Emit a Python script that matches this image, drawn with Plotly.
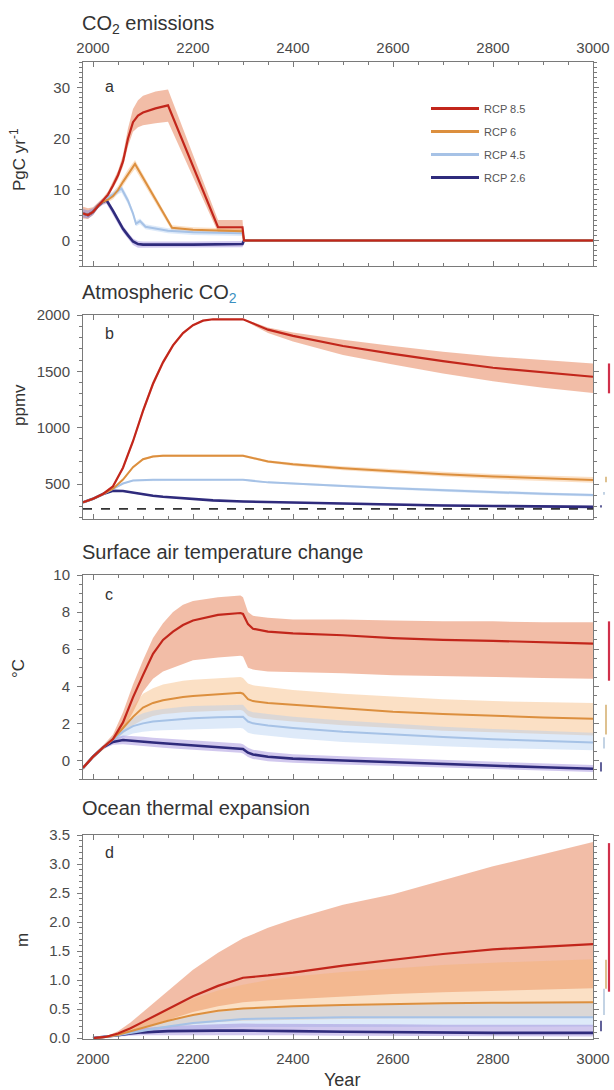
import plotly.graph_objects as go

# ---------------- (a) CO2 emissions, PgC per year ----------------
em85_yr = [1980, 1990, 2000, 2010, 2020, 2030, 2040, 2050, 2060, 2070, 2080, 2090, 2100, 2125, 2150, 2250, 2299, 2302, 3000]
em85 = [5.3, 5.0, 5.6, 6.8, 7.8, 9.0, 10.8, 12.8, 15.5, 20.0, 23.2, 24.5, 25.1, 25.9, 26.5, 2.6, 2.6, 0.0, 0.0]
em85_lo = [4.3, 4.2, 5.0, 6.3, 7.3, 8.5, 10.2, 12.0, 14.5, 18.5, 21.3, 22.2, 22.6, 23.0, 23.3, 1.6, 1.6, -0.2, -0.2]
em85_hi = [6.6, 6.3, 6.5, 7.4, 8.4, 9.6, 11.5, 13.7, 16.8, 22.0, 25.8, 27.5, 28.4, 29.2, 29.6, 4.0, 4.0, 0.2, 0.2]

em6_yr = [1980, 1990, 2000, 2010, 2020, 2030, 2040, 2050, 2060, 2070, 2084, 2158, 2200, 2299, 2302, 3000]
em6 = [5.3, 5.0, 5.6, 6.8, 7.6, 8.0, 8.7, 9.9, 11.5, 13.0, 15.0, 2.5, 2.1, 1.8, 0.0, 0.0]
em6_lo = [4.5, 4.3, 5.0, 6.3, 7.1, 7.5, 8.1, 9.2, 10.7, 12.2, 14.0, 1.9, 1.6, 1.3, -0.2, -0.2]
em6_hi = [6.2, 5.9, 6.3, 7.3, 8.1, 8.6, 9.4, 10.7, 12.4, 13.9, 15.8, 3.0, 2.6, 2.3, 0.2, 0.2]

em45_yr = [1980, 1990, 2000, 2010, 2020, 2030, 2040, 2050, 2057, 2070, 2080, 2086, 2094, 2105, 2150, 2200, 2299, 2302, 3000]
em45 = [5.3, 5.0, 5.6, 6.8, 7.7, 8.5, 9.0, 9.8, 10.2, 7.8, 5.3, 3.3, 3.8, 2.7, 1.9, 1.6, 1.4, 0.0, 0.0]
em45_lo = [4.5, 4.3, 5.0, 6.3, 7.2, 8.0, 8.4, 9.1, 9.4, 7.1, 4.7, 2.8, 3.2, 2.2, 1.4, 1.1, 0.9, -0.2, -0.2]
em45_hi = [6.2, 5.9, 6.3, 7.3, 8.2, 9.0, 9.6, 10.4, 10.9, 8.5, 5.9, 3.9, 4.3, 3.2, 2.4, 2.1, 1.9, 0.2, 0.2]

em26_yr = [1980, 1990, 2000, 2010, 2020, 2027, 2040, 2050, 2060, 2070, 2080, 2090, 2100, 2200, 2299, 2302, 3000]
em26 = [5.3, 5.0, 5.6, 6.8, 7.6, 7.9, 5.8, 4.0, 2.3, 1.0, -0.2, -0.7, -0.8, -0.8, -0.7, 0.0, 0.0]
em26_lo = [4.5, 4.3, 5.0, 6.3, 7.0, 7.2, 5.1, 3.3, 1.6, 0.3, -0.9, -1.4, -1.5, -1.4, -1.3, -0.2, -0.2]
em26_hi = [6.2, 5.9, 6.3, 7.3, 8.2, 8.5, 6.4, 4.6, 2.9, 1.6, 0.4, -0.1, -0.2, -0.2, -0.1, 0.2, 0.2]

# ---------------- (b) Atmospheric CO2, ppmv ----------------
co2_yr = [1980, 2000, 2020, 2040, 2060, 2080, 2100, 2120, 2140, 2160, 2180, 2200, 2220, 2240, 2300, 2350, 2400, 2500, 2600, 2700, 2800, 2900, 3000]
co2_85 = [338, 369, 412, 480, 645, 880, 1150, 1390, 1580, 1730, 1840, 1910, 1950, 1962, 1962, 1870, 1815, 1725, 1655, 1590, 1532, 1490, 1452]
co2_85_lo = [332, 364, 406, 470, 628, 858, 1125, 1365, 1560, 1715, 1828, 1902, 1944, 1958, 1957, 1840, 1765, 1645, 1560, 1480, 1412, 1355, 1307]
co2_85_hi = [344, 374, 418, 490, 662, 902, 1175, 1415, 1600, 1745, 1852, 1918, 1956, 1966, 1967, 1890, 1845, 1780, 1725, 1675, 1632, 1600, 1570]
co2_6 = [338, 369, 410, 458, 540, 650, 720, 745, 752, 752, 752, 752, 752, 752, 752, 700, 675, 640, 612, 588, 567, 550, 537]
co2_6_lo = [334, 365, 405, 452, 532, 640, 710, 735, 742, 742, 742, 742, 742, 742, 742, 688, 660, 622, 592, 566, 544, 526, 512]
co2_6_hi = [342, 373, 415, 464, 548, 660, 730, 755, 762, 762, 762, 762, 762, 762, 762, 712, 690, 658, 632, 610, 590, 574, 562]
co2_45 = [338, 369, 410, 455, 505, 532, 538, 538, 538, 538, 538, 538, 538, 538, 538, 515, 502, 482, 463, 445, 427, 413, 402]
co2_45_lo = [335, 366, 406, 450, 499, 526, 532, 532, 532, 532, 532, 532, 532, 532, 532, 507, 493, 471, 451, 432, 414, 400, 390]
co2_45_hi = [341, 372, 414, 460, 511, 538, 544, 544, 544, 544, 544, 544, 544, 544, 544, 523, 511, 493, 475, 458, 440, 426, 414]
co2_26 = [338, 369, 412, 440, 438, 422, 407, 396, 387, 380, 373, 367, 360, 355, 345, 340, 335, 325, 317, 310, 305, 301, 298]
co2_26_lo = [335, 366, 408, 435, 432, 416, 401, 390, 381, 374, 367, 361, 354, 349, 339, 333, 328, 317, 308, 301, 295, 291, 288]
co2_26_hi = [341, 372, 416, 445, 444, 428, 413, 402, 393, 386, 379, 373, 366, 361, 351, 347, 342, 333, 326, 319, 315, 311, 308]
co2_preindustrial = 280

# ---------------- (c) Surface air temperature change, degC ----------------
tas_yr = [1980, 2000, 2020, 2040, 2060, 2080, 2100, 2120, 2140, 2160, 2180, 2200, 2250, 2295, 2300, 2310, 2320, 2350, 2400, 2500, 2600, 2700, 2800, 2900, 3000]
tas85 = [-0.4, 0.2, 0.7, 1.15, 2.05, 3.4, 4.6, 5.75, 6.5, 6.95, 7.3, 7.55, 7.85, 7.95, 7.9, 7.35, 7.1, 6.95, 6.85, 6.75, 6.6, 6.5, 6.45, 6.38, 6.3]
tas85_hi = [-0.3, 0.3, 0.8, 1.4, 2.6, 4.1, 5.4, 6.6, 7.4, 8.0, 8.4, 8.6, 8.8, 8.9, 8.8, 8.0, 7.8, 7.7, 7.6, 7.6, 7.55, 7.5, 7.5, 7.45, 7.45]
tas85_lo = [-0.5, 0.1, 0.6, 1.0, 1.65, 2.6, 3.7, 4.4, 4.8, 5.0, 5.2, 5.4, 5.55, 5.65, 5.6, 5.0, 4.9, 4.8, 4.75, 4.7, 4.6, 4.55, 4.5, 4.45, 4.4]
tas6 = [-0.4, 0.2, 0.7, 1.15, 1.75, 2.35, 2.85, 3.1, 3.25, 3.35, 3.42, 3.48, 3.58, 3.65, 3.6, 3.3, 3.2, 3.1, 3.0, 2.8, 2.62, 2.5, 2.4, 2.32, 2.25]
tas6_hi = [-0.3, 0.3, 0.8, 1.3, 2.1, 2.9, 3.6, 3.9, 4.1, 4.2, 4.3, 4.35, 4.45, 4.5, 4.45, 4.15, 4.05, 3.95, 3.8, 3.6, 3.45, 3.3, 3.2, 3.15, 3.1]
tas6_lo = [-0.5, 0.1, 0.6, 1.0, 1.45, 1.9, 2.2, 2.4, 2.5, 2.55, 2.6, 2.62, 2.68, 2.72, 2.68, 2.4, 2.3, 2.2, 2.1, 1.9, 1.75, 1.6, 1.5, 1.42, 1.35]
tas45 = [-0.4, 0.2, 0.7, 1.1, 1.55, 1.85, 2.0, 2.1, 2.15, 2.2, 2.25, 2.28, 2.33, 2.38, 2.35, 2.1, 2.0, 1.88, 1.75, 1.55, 1.4, 1.27, 1.15, 1.05, 0.97]
tas45_hi = [-0.3, 0.3, 0.8, 1.3, 1.85, 2.3, 2.55, 2.7, 2.78, 2.85, 2.9, 2.93, 2.98, 3.02, 3.0, 2.7, 2.6, 2.5, 2.35, 2.15, 1.98, 1.82, 1.7, 1.6, 1.5]
tas45_lo = [-0.5, 0.1, 0.6, 0.95, 1.25, 1.45, 1.55, 1.6, 1.63, 1.66, 1.68, 1.7, 1.72, 1.75, 1.72, 1.5, 1.42, 1.32, 1.2, 1.0, 0.88, 0.76, 0.67, 0.6, 0.55]
tas26 = [-0.4, 0.2, 0.7, 1.0, 1.1, 1.07, 1.02, 0.97, 0.93, 0.89, 0.85, 0.81, 0.73, 0.66, 0.62, 0.42, 0.32, 0.2, 0.1, 0.0, -0.1, -0.2, -0.28, -0.37, -0.45]
tas26_hi = [-0.3, 0.3, 0.8, 1.2, 1.35, 1.33, 1.28, 1.23, 1.19, 1.15, 1.11, 1.07, 0.99, 0.92, 0.88, 0.68, 0.58, 0.45, 0.34, 0.22, 0.12, 0.02, -0.07, -0.16, -0.25]
tas26_lo = [-0.5, 0.1, 0.6, 0.85, 0.88, 0.84, 0.78, 0.72, 0.68, 0.64, 0.6, 0.56, 0.48, 0.42, 0.38, 0.18, 0.08, -0.04, -0.13, -0.22, -0.3, -0.4, -0.47, -0.55, -0.62]

# ---------------- (d) Ocean thermal expansion, m ----------------
ote_yr = [2000, 2025, 2050, 2075, 2100, 2150, 2200, 2250, 2300, 2350, 2400, 2500, 2600, 2700, 2800, 2900, 3000]
ote85 = [0.0, 0.02, 0.08, 0.17, 0.28, 0.5, 0.72, 0.9, 1.04, 1.08, 1.13, 1.25, 1.35, 1.45, 1.53, 1.58, 1.62]
ote85_hi = [0.0, 0.03, 0.12, 0.27, 0.45, 0.82, 1.18, 1.47, 1.72, 1.9, 2.05, 2.3, 2.48, 2.72, 2.96, 3.17, 3.38]
ote85_lo = [0.0, 0.01, 0.05, 0.11, 0.18, 0.31, 0.45, 0.55, 0.62, 0.65, 0.68, 0.72, 0.76, 0.79, 0.82, 0.84, 0.86]
ote6 = [0.0, 0.02, 0.06, 0.12, 0.19, 0.3, 0.4, 0.47, 0.51, 0.53, 0.55, 0.57, 0.59, 0.6, 0.61, 0.62, 0.62]
ote6_hi = [0.0, 0.03, 0.09, 0.18, 0.3, 0.5, 0.68, 0.82, 0.92, 1.0, 1.06, 1.14, 1.2, 1.26, 1.3, 1.33, 1.36]
ote6_lo = [0.0, 0.01, 0.04, 0.08, 0.12, 0.18, 0.24, 0.28, 0.3, 0.31, 0.32, 0.33, 0.34, 0.34, 0.35, 0.35, 0.35]
ote45 = [0.0, 0.02, 0.05, 0.09, 0.13, 0.2, 0.26, 0.3, 0.33, 0.34, 0.35, 0.36, 0.36, 0.36, 0.36, 0.36, 0.36]
ote45_hi = [0.0, 0.03, 0.07, 0.13, 0.2, 0.3, 0.39, 0.45, 0.5, 0.52, 0.54, 0.56, 0.58, 0.59, 0.6, 0.61, 0.62]
ote45_lo = [0.0, 0.01, 0.03, 0.06, 0.08, 0.12, 0.15, 0.17, 0.19, 0.19, 0.2, 0.2, 0.2, 0.2, 0.2, 0.2, 0.2]
ote26 = [0.0, 0.02, 0.05, 0.08, 0.1, 0.12, 0.13, 0.13, 0.13, 0.13, 0.12, 0.11, 0.1, 0.1, 0.09, 0.09, 0.09]
ote26_hi = [0.0, 0.03, 0.08, 0.13, 0.17, 0.21, 0.23, 0.24, 0.25, 0.25, 0.25, 0.24, 0.24, 0.23, 0.23, 0.23, 0.23]
ote26_lo = [0.0, 0.01, 0.03, 0.04, 0.05, 0.06, 0.06, 0.06, 0.06, 0.05, 0.05, 0.04, 0.04, 0.03, 0.03, 0.03, 0.03]

# Model spread in year 3000 (bars right of the frame), order: 8.5, 6, 4.5, 2.6
scenarios = ["RCP 8.5", "RCP 6", "RCP 4.5", "RCP 2.6"]
co2_3000_lo = [1305, 515, 405, 292]
co2_3000_hi = [1570, 565, 430, 312]
tas_3000_lo = [4.3, 1.4, 0.65, -0.6]
tas_3000_hi = [7.5, 3.0, 1.25, -0.1]
ote_3000_lo = [0.8, 0.85, 0.4, 0.12]
ote_3000_hi = [3.36, 1.35, 0.85, 0.3]

# ---------------- styling ----------------
W, H = 614, 1090
FONT = "Liberation Sans, Arial, sans-serif"
line_col = {"RCP 8.5": "#c2261b", "RCP 6": "#dc8f3e", "RCP 4.5": "#a6c2e6", "RCP 2.6": "#2f2b7c"}
line_w = {"RCP 8.5": 2.2, "RCP 6": 2.0, "RCP 4.5": 2.0, "RCP 2.6": 2.6}
band_col = {"RCP 8.5": "rgba(232,135,95,0.55)", "RCP 6": "rgba(246,178,110,0.40)",
            "RCP 4.5": "rgba(172,202,240,0.40)", "RCP 2.6": "rgba(140,118,212,0.40)"}
side_col = {"RCP 8.5": "#d0304a", "RCP 6": "#d6b274", "RCP 4.5": "#b4c8de", "RCP 2.6": "#3a3a80"}
side_x = {"RCP 8.5": 609, "RCP 6": 606, "RCP 4.5": 604, "RCP 2.6": 601}

x0_px, x1_px = 83, 593
panel_px = [(62, 266), (315, 519), (575, 779), (835, 1039)]

fig = go.Figure()


def add_band(k, x, lo, hi, name):
    fig.add_trace(go.Scatter(
        x=list(x) + list(x)[::-1], y=list(hi) + list(lo)[::-1],
        fill="toself", fillcolor=band_col[name], line=dict(width=0),
        hoverinfo="skip", showlegend=False,
        xaxis="x" if k == 1 else f"x{k}", yaxis="y" if k == 1 else f"y{k}"))


def add_line(k, x, y, name):
    fig.add_trace(go.Scatter(
        x=x, y=y, mode="lines", name=name,
        line=dict(color=line_col[name], width=line_w[name]),
        showlegend=False,
        xaxis="x" if k == 1 else f"x{k}", yaxis="y" if k == 1 else f"y{k}"))


panels = [
    (1, [(em85_yr, em85, em85_lo, em85_hi), (em6_yr, em6, em6_lo, em6_hi),
         (em45_yr, em45, em45_lo, em45_hi), (em26_yr, em26, em26_lo, em26_hi)]),
    (2, [(co2_yr, co2_85, co2_85_lo, co2_85_hi), (co2_yr, co2_6, co2_6_lo, co2_6_hi),
         (co2_yr, co2_45, co2_45_lo, co2_45_hi), (co2_yr, co2_26, co2_26_lo, co2_26_hi)]),
    (3, [(tas_yr, tas85, tas85_lo, tas85_hi), (tas_yr, tas6, tas6_lo, tas6_hi),
         (tas_yr, tas45, tas45_lo, tas45_hi), (tas_yr, tas26, tas26_lo, tas26_hi)]),
    (4, [(ote_yr, ote85, ote85_lo, ote85_hi), (ote_yr, ote6, ote6_lo, ote6_hi),
         (ote_yr, ote45, ote45_lo, ote45_hi), (ote_yr, ote26, ote26_lo, ote26_hi)]),
]

for k, series in panels:
    for name, (x, y, lo, hi) in zip(scenarios, series):
        add_band(k, x, lo, hi, name)
    if k == 2:
        fig.add_trace(go.Scatter(
            x=[co2_yr[0], co2_yr[-1]], y=[co2_preindustrial, co2_preindustrial],
            mode="lines", line=dict(color="#333333", width=1.6, dash="dash"),
            showlegend=False, hoverinfo="skip", xaxis="x2", yaxis="y2"))
    for name, (x, y, lo, hi) in reversed(list(zip(scenarios, series))):
        add_line(k, x, y, name)

# legend entries, one group each so the row gap can be tuned
for name in scenarios:
    fig.add_trace(go.Scatter(
        x=[None], y=[None], mode="lines", name=name,
        line=dict(color=line_col[name], width=3),
        legendgroup=name, showlegend=True, xaxis="x", yaxis="y"))

# ---------------- axes ----------------
y_ranges = [[-5, 35], [190, 2000], [-1, 10], [-0.015, 3.5]]
y_major = [10, 500, 2, 0.5]
y_tick0 = [0, 500, 0, 0]
y_minor = [1, 100, 0.5, 0.1]
y_fmt = ["", "", "", ".1f"]

axis_col = "#7a7a7a"
tick_font = dict(family=FONT, size=15, color="#4a4a4a")

layout = dict(
    width=W, height=H, margin=dict(l=0, r=0, t=0, b=0, autoexpand=False),
    paper_bgcolor="white", plot_bgcolor="white",
    font=dict(family=FONT, color="#333333"),
    showlegend=True,
    legend=dict(x=426 / W, y=1 - 94 / H, xanchor="left", yanchor="top",
                bgcolor="rgba(0,0,0,0)", font=dict(family=FONT, size=11, color="#555555"),
                tracegroupgap=4, itemwidth=48, traceorder="grouped"),
)

for i, (top, bot) in enumerate(panel_px):
    k = i + 1
    xs = "xaxis" if k == 1 else f"xaxis{k}"
    ys = "yaxis" if k == 1 else f"yaxis{k}"
    dom_y = [1 - bot / H, 1 - top / H]
    layout[xs] = dict(
        domain=[x0_px / W, x1_px / W], range=[1980, 3000],
        anchor="y" if k == 1 else f"y{k}",
        side="top" if k == 1 else "bottom", automargin=False,
        showline=True, linecolor=axis_col, linewidth=1, mirror="ticks",
        ticks="inside", ticklen=5, tickcolor=axis_col,
        tickmode="linear", tick0=2000, dtick=200,
        minor=dict(dtick=50, tick0=2000, ticks="inside", ticklen=3, tickcolor=axis_col),
        showticklabels=(k in (1, 4)), tickfont=tick_font, ticklabelstandoff=6 if k == 4 else 2,
        showgrid=False, zeroline=False, fixedrange=True)
    layout[ys] = dict(
        domain=dom_y, range=y_ranges[i],
        anchor="x" if k == 1 else f"x{k}", automargin=False,
        showline=True, linecolor=axis_col, linewidth=1, mirror="ticks",
        ticks="outside", ticklen=5, tickcolor=axis_col,
        tickmode="linear", tick0=y_tick0[i], dtick=y_major[i], tickformat=y_fmt[i],
        minor=dict(dtick=y_minor[i], ticks="outside", ticklen=3, tickcolor=axis_col),
        tickfont=tick_font, ticklabelstandoff=4,
        showgrid=False, zeroline=False, fixedrange=True)

fig.update_layout(**layout)

# ---------------- spread bars at year 3000 ----------------
shapes = []
for k, lo_arr, hi_arr in [(2, co2_3000_lo, co2_3000_hi), (3, tas_3000_lo, tas_3000_hi),
                          (4, ote_3000_lo, ote_3000_hi)]:
    for name, lo, hi in zip(scenarios, lo_arr, hi_arr):
        shapes.append(dict(type="line", xref="paper", yref=f"y{k}",
                           x0=side_x[name] / W, x1=side_x[name] / W, y0=lo, y1=hi,
                           line=dict(color=side_col[name], width=2.2 if name == "RCP 8.5" else 1.6)))
fig.update_layout(shapes=shapes)

# ---------------- text ----------------
ann = []
titles = [("CO<sub>2</sub> emissions", 24),
          ("Atmospheric CO<sub><span style='color:#3a8fc0'>2</span></sub>", 293),
          ("Surface air temperature change", 552),
          ("Ocean thermal expansion", 808)]
for txt, ypx in titles:
    ann.append(dict(text=txt, x=80 / W, y=1 - ypx / H, xref="paper", yref="paper",
                    xanchor="left", yanchor="middle", showarrow=False,
                    font=dict(family=FONT, size=20, color="#333333")))

letters = [("a", 86), ("b", 333), ("c", 595), ("d", 852)]
for txt, ypx in letters:
    ann.append(dict(text=txt, x=109 / W, y=1 - ypx / H, xref="paper", yref="paper",
                    xanchor="center", yanchor="middle", showarrow=False,
                    font=dict(family=FONT, size=16, color="#333333")))

ytitles = [("PgC yr<sup>-1</sup>", 18, 160), ("ppmv", 19, 405), ("°C", 18, 669), ("m", 22, 940)]
for txt, xpx, ypx in ytitles:
    ann.append(dict(text=txt, x=xpx / W, y=1 - ypx / H, xref="paper", yref="paper",
                    xanchor="center", yanchor="middle", showarrow=False, textangle=-90,
                    font=dict(family=FONT, size=17, color="#333333")))

ann.append(dict(text="Year", x=342 / W, y=1 - 1080 / H, xref="paper", yref="paper",
                xanchor="center", yanchor="middle", showarrow=False,
                font=dict(family=FONT, size=18, color="#333333")))

fig.update_layout(annotations=ann)

fig.write_html("out.html")
